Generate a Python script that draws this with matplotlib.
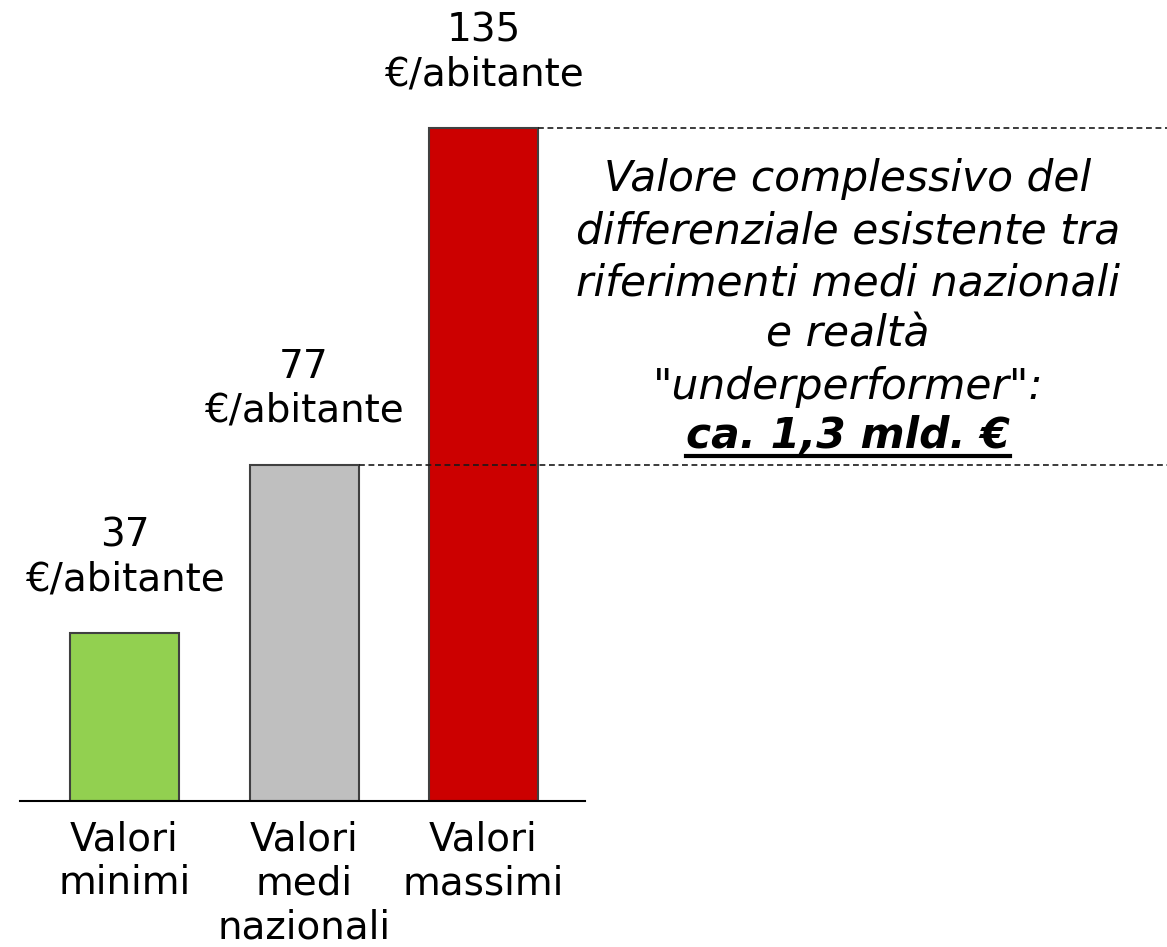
import matplotlib
matplotlib.use("Agg")
import matplotlib.pyplot as plt
from matplotlib.lines import Line2D

# Data
categories = ["Valori\nminimi", "Valori\nmedi\nnazionali", "Valori\nmassimi"]
values = [37, 77, 135]                 # labelled values (€/abitante)
bar_heights = [25, 50, 100]            # drawn heights, as shown in the picture (schematic)
bar_colors = ["#92D050", "#BFBFBF", "#CC0000"]
value_unit = "€/abitante"
note_lines = ["Valore complessivo del", "differenziale esistente tra",
              "riferimenti medi nazionali", "e realtà", "\"underperformer\":"]
note_total = "ca. 1,3 mld. €"

plt.rcParams['font.family'] = ['DejaVu Sans']

W, H = 1167, 947
fig = plt.figure(figsize=(W / 100, H / 100), dpi=100)
ax = fig.add_axes([20 / W, (H - 801) / H, 565 / W, 801 / H])

x = list(range(len(categories)))
bars = ax.bar(x, bar_heights, width=0.607, color=bar_colors,
              edgecolor="#404040", linewidth=1.5, zorder=2)

ax.set_xlim(-0.582, 2.565)
ax.set_ylim(0, 100 * 801 / 673)

for s in ["top", "right", "left"]:
    ax.spines[s].set_visible(False)
ax.spines["bottom"].set_linewidth(1.5)
ax.spines["bottom"].set_color("black")
ax.set_yticks([])
ax.set_xticks(x)
ax.set_xticklabels(categories, fontsize=28, linespacing=1.2)
ax.tick_params(axis="x", length=0, pad=14)

for xi, h, v in zip(x, bar_heights, values):
    ax.annotate(f"{v}\n{value_unit}", xy=(xi, h), xytext=(0, 25),
                textcoords="offset points", ha="center", va="bottom",
                fontsize=28, linespacing=1.2)

# dashed reference lines from the top of the middle and max bars to the right edge
fig.canvas.draw()
inv = ax.transData.inverted()
x_end = inv.transform((W, 0))[0]
for bi in [1, 2]:
    r = bars[bi]
    x0 = r.get_x() + r.get_width()
    ax.plot([x0, x_end], [r.get_height(), r.get_height()], color="#1a1a1a",
            linestyle=(0, (3.5, 2.2)), linewidth=1.2, clip_on=False, zorder=3)

# note text
fig.text(848 / W, 1 - 283 / H, "\n".join(note_lines), ha="center", va="center",
         fontsize=30.5, style="italic", linespacing=1.3)
t = fig.text(848 / W, 1 - 436 / H, note_total, ha="center", va="center",
             fontsize=30.5, style="italic", fontweight="bold")
fig.canvas.draw()
bb = t.get_window_extent()
y_ul = (H - 456) / H
fig.add_artist(Line2D([bb.x0 / W, bb.x1 / W], [y_ul, y_ul], color="black",
                      linewidth=3, transform=fig.transFigure))

fig.savefig("out.png", dpi=100)
